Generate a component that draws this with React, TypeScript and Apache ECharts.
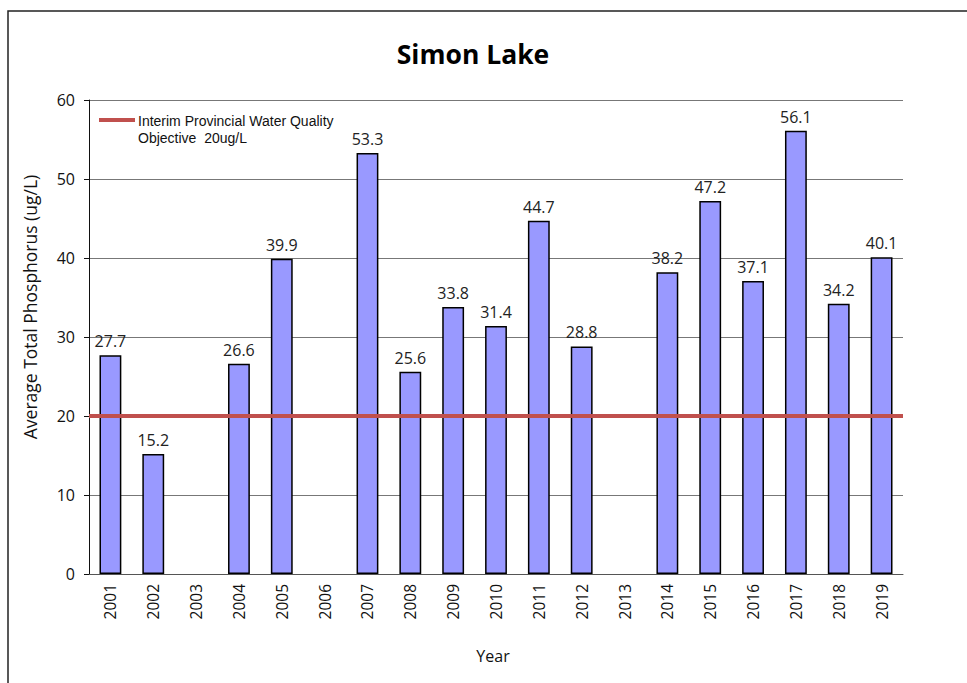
import React, { useEffect, useRef } from "react";
import * as echarts from "echarts";

const years = ["2001","2002","2003","2004","2005","2006","2007","2008","2009","2010","2011","2012","2013","2014","2015","2016","2017","2018","2019"];
const phosphorus: (number | null)[] = [27.7, 15.2, null, 26.6, 39.9, null, 53.3, 25.6, 33.8, 31.4, 44.7, 28.8, null, 38.2, 47.2, 37.1, 56.1, 34.2, 40.1];
const objective = 20;
const yTicks = { min: 0, max: 60, interval: 10 };
const titleText = "Simon Lake";
const yName = "Average Total Phosphorus (ug/L)";
const xName = "Year";
const legendLines = ["Interim Provincial Water Quality", "Objective  20ug/L"];

export default function App() {
  const ref = useRef<HTMLDivElement>(null);
  useEffect(() => {
    if (!ref.current) return;
    const chart = echarts.init(ref.current, null, { renderer: "svg" });
    const font = "'Open Sans', 'Noto Sans', sans-serif";
    chart.setOption({
      animation: false,
      backgroundColor: "#ffffff",
      title: {
        text: titleText,
        left: 468,
        top: 35,
        textAlign: "center",
        textStyle: { fontFamily: font, fontWeight: "bold", fontSize: 26.5, color: "#000" },
      },
      grid: { left: 89, right: 64, top: 100, bottom: 109 },
      xAxis: {
        type: "category",
        data: years,
        axisLine: { lineStyle: { color: "#555", width: 1 } },
        axisTick: { show: false },
        axisLabel: { rotate: 90, margin: 10, fontFamily: font, fontSize: 15.5, color: "#111" },
      },
      yAxis: {
        type: "value",
        min: yTicks.min,
        max: yTicks.max,
        interval: yTicks.interval,
        axisLine: { show: true, lineStyle: { color: "#111", width: 1 } },
        axisTick: { show: true, length: 5, lineStyle: { color: "#111" } },
        axisLabel: { margin: 14, fontFamily: font, fontSize: 16, color: "#111" },
        splitLine: { lineStyle: { color: "#777", width: 1 } },
      },
      series: [
        {
          type: "bar",
          data: phosphorus,
          barWidth: "51%",
          itemStyle: { color: "#9999FF", borderColor: "#000", borderWidth: 1.5 },
          label: {
            show: true,
            position: "top",
            distance: 6,
            fontFamily: font,
            fontSize: 16,
            color: "#222",
            formatter: (p: any) => (p.value == null ? "" : Number(p.value).toFixed(1)),
          },
          markLine: {
            silent: true,
            symbol: ["none", "none"],
            label: { show: false },
            lineStyle: { color: "#C0504D", width: 4, type: "solid" },
            data: [{ yAxis: objective }],
          },
        },
      ],
      graphic: [
        {
          type: "rect",
          shape: { x: 8, y: 11, width: 1000, height: 700 },
          style: { fill: "none", stroke: "#222", lineWidth: 1.5 },
          silent: true,
        },
        {
          type: "line",
          shape: { x1: 99, y1: 120, x2: 135, y2: 120 },
          style: { stroke: "#C0504D", lineWidth: 4 },
        },
        {
          type: "text",
          x: 138,
          y: 112,
          style: {
            text: legendLines.join("\n"),
            fontFamily: "'Liberation Sans', Arial, sans-serif",
            fontSize: 14,
            lineHeight: 17,
            fill: "#111",
          },
        },
        {
          type: "text",
          x: 30,
          y: 307,
          rotation: Math.PI / 2,
          style: {
            text: yName,
            fontFamily: font,
            fontSize: 17.5,
            fill: "#111",
            align: "center",
            verticalAlign: "middle",
          },
        },
        {
          type: "text",
          x: 493,
          y: 656,
          style: {
            text: xName,
            fontFamily: font,
            fontSize: 16,
            fill: "#111",
            align: "center",
            verticalAlign: "middle",
          },
        },
      ],
    });
    return () => chart.dispose();
  }, []);
  return <div ref={ref} style={{ position: "absolute", left: 0, top: 0, width: 967, height: 683 }} />;
}
